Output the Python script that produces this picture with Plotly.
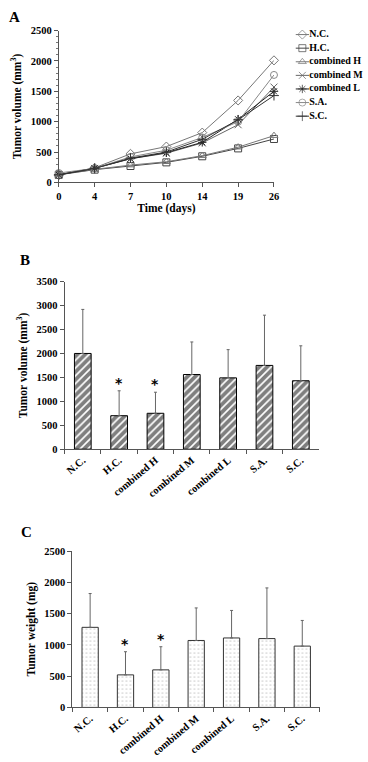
import plotly.graph_objects as go

# ---------------- Data ----------------
days = ["0", "4", "7", "10", "14", "19", "26"]
series_names = ["N.C.", "H.C.", "combined H", "combined M", "combined L", "S.A.", "S.C."]
vol_nc = [120, 240, 470, 590, 820, 1350, 2010]
vol_hc = [125, 210, 270, 330, 430, 560, 715]
vol_ch = [130, 215, 285, 340, 440, 580, 770]
vol_cm = [130, 230, 390, 480, 650, 950, 1570]
vol_cl = [125, 235, 390, 490, 660, 1040, 1500]
vol_sa = [155, 230, 420, 530, 740, 1000, 1770]
vol_sc = [125, 230, 400, 500, 710, 1030, 1430]

groups = ["N.C.", "H.C.", "combined H", "combined M", "combined L", "S.A.", "S.C."]
final_volume = [2000, 700, 750, 1560, 1490, 1750, 1430]
final_volume_err = [920, 520, 440, 680, 590, 1050, 730]
tumor_weight = [1280, 520, 600, 1070, 1110, 1100, 980]
tumor_weight_err = [540, 370, 370, 520, 440, 810, 410]
significant = [False, True, True, False, False, False, False]

# ---------------- Styles ----------------
W, H = 368, 762
FONT = "Liberation Serif"
symbols = ["diamond-open", "square-open", "triangle-up-open", "x-thin-open",
           "asterisk-open", "circle-open", "cross-thin-open"]
line_colors = ["#777777", "#444444", "#777777", "#666666", "#222222", "#888888", "#333333"]


def px_x(p):
    return p / W


def px_y(p):
    return 1 - p / H


fig = go.Figure()

all_series = [vol_nc, vol_hc, vol_ch, vol_cm, vol_cl, vol_sa, vol_sc]
for name, vals, sym, col in zip(series_names, all_series, symbols, line_colors):
    fig.add_trace(go.Scatter(
        x=days, y=vals, name=name, mode="lines+markers", showlegend=False,
        line=dict(color=col, width=1),
        marker=dict(symbol=sym, size=7, color=col, line=dict(color=col, width=1)),
        cliponaxis=False, xaxis="x", yaxis="y",
    ))

# Compact legend for panel A, drawn on its own hidden axis (one row per series)
for row, (name, sym, col) in enumerate(zip(series_names, symbols, line_colors)):
    fig.add_trace(go.Scatter(
        x=[0, 0.5, 1], y=[row] * 3, mode="lines+markers", showlegend=False, hoverinfo="skip",
        line=dict(color=col, width=1),
        marker=dict(symbol=sym, size=[0, 7, 0], color=col, line=dict(color=col, width=1)),
        cliponaxis=False, xaxis="x4", yaxis="y4",
    ))
fig.add_trace(go.Scatter(
    x=[1] * len(series_names), y=list(range(len(series_names))), mode="text",
    text=series_names, textposition="middle right", showlegend=False, hoverinfo="skip",
    textfont=dict(family=FONT, size=10, color="black", weight="bold"),
    cliponaxis=False, xaxis="x4", yaxis="y4",
))

# Panel B bars
fig.add_trace(go.Bar(
    x=groups, y=final_volume, width=0.46, showlegend=False,
    marker=dict(color="white", line=dict(color="black", width=1),
                pattern=dict(shape="/", fgcolor="black", bgcolor="white", size=5.5, solidity=0.7)),
    error_y=dict(type="data", array=final_volume_err, arrayminus=[0] * len(groups),
                 symmetric=False, color="#666666", thickness=1, width=1.5),
    xaxis="x2", yaxis="y2",
))

# Panel C bars
fig.add_trace(go.Bar(
    x=groups, y=tumor_weight, width=0.46, showlegend=False,
    marker=dict(color="white", line=dict(color="#333333", width=1),
                pattern=dict(shape=".", fgcolor="#999999", bgcolor="white", size=4, solidity=0.15)),
    error_y=dict(type="data", array=tumor_weight_err, arrayminus=[0] * len(groups),
                 symmetric=False, color="#666666", thickness=1, width=1.5),
    xaxis="x3", yaxis="y3",
))

star_font = dict(family="DejaVu Sans", size=14, color="#000000", weight="bold")
annotations = []
for g, v, e, s in zip(groups, final_volume, final_volume_err, significant):
    if s:
        annotations.append(dict(x=g, y=v + e, xref="x2", yref="y2", text="*", showarrow=False,
                                yanchor="bottom", yshift=-2, font=star_font))
for g, v, e, s in zip(groups, tumor_weight, tumor_weight_err, significant):
    if s:
        annotations.append(dict(x=g, y=v + e, xref="x3", yref="y3", text="*", showarrow=False,
                                yanchor="bottom", yshift=-2, font=star_font))

for letter, (lx, ly) in zip(["A", "B", "C"], [(4, 2), (15, 249), (16, 525)]):
    annotations.append(dict(x=px_x(lx), y=px_y(ly), xref="paper", yref="paper", text=letter,
                            showarrow=False, xanchor="left", yanchor="top",
                            font=dict(family=FONT, size=15, color="black", weight="bold")))

tickfont = dict(family=FONT, size=10.5, color="black", weight="bold")
titlefont = dict(family=FONT, size=11.5, color="black", weight="bold")
axis_common = dict(showline=True, linecolor="#555555", linewidth=1, ticks="outside",
                   tickcolor="#555555", ticklen=4, showgrid=False, zeroline=False,
                   tickfont=tickfont)
hidden = dict(visible=False, showgrid=False, zeroline=False, fixedrange=True)

n_rows = len(series_names)
row_px = 13.8
leg_top = 30 - row_px / 2
leg_bot = leg_top + row_px * n_rows

fig.update_layout(
    width=W, height=H, margin=dict(l=0, r=0, t=0, b=0),
    paper_bgcolor="white", plot_bgcolor="rgba(0,0,0,0)",
    showlegend=False, hovermode=False,
    annotations=annotations,
    xaxis=dict(domain=[px_x(57), px_x(277)], anchor="y", type="category", range=[0, 6],
               title=dict(text="Time (days)", font=titlefont, standoff=2), **axis_common),
    yaxis=dict(domain=[px_y(180), px_y(26)], anchor="x", range=[0, 2500], dtick=500,
               title=dict(text="Tumor volume (mm<sup>3</sup>)", font=titlefont, standoff=6),
               minor=dict(ticks="outside", ticklen=2, dtick=100, tickcolor="#777777"),
               **axis_common),
    xaxis2=dict(domain=[px_x(63), px_x(323)], anchor="y2", type="category", range=[-0.5, 6.5],
                tickson="boundaries", tickangle=-40, **axis_common),
    yaxis2=dict(domain=[px_y(450.7), px_y(280.7)], anchor="x2", range=[0, 3500], dtick=500,
                title=dict(text="Tumor volume (mm<sup>3</sup>)", font=titlefont, standoff=6),
                **axis_common),
    xaxis3=dict(domain=[px_x(71), px_x(324)], anchor="y3", type="category", range=[-0.5, 6.5],
                tickson="boundaries", tickangle=-40, **axis_common),
    yaxis3=dict(domain=[px_y(712.7), px_y(554)], anchor="x3", range=[0, 2500], dtick=500,
                title=dict(text="Tumor weight (mg)", font=titlefont, standoff=6),
                **axis_common),
    xaxis4=dict(domain=[px_x(299), px_x(313)], anchor="y4", range=[0, 1], **hidden),
    yaxis4=dict(domain=[px_y(leg_bot), px_y(leg_top)], anchor="x4",
                range=[n_rows - 0.5, -0.5], **hidden),
)

fig.write_html("out.html", config={"displayModeBar": False},
               post_script="document.body.style.margin='0';")
